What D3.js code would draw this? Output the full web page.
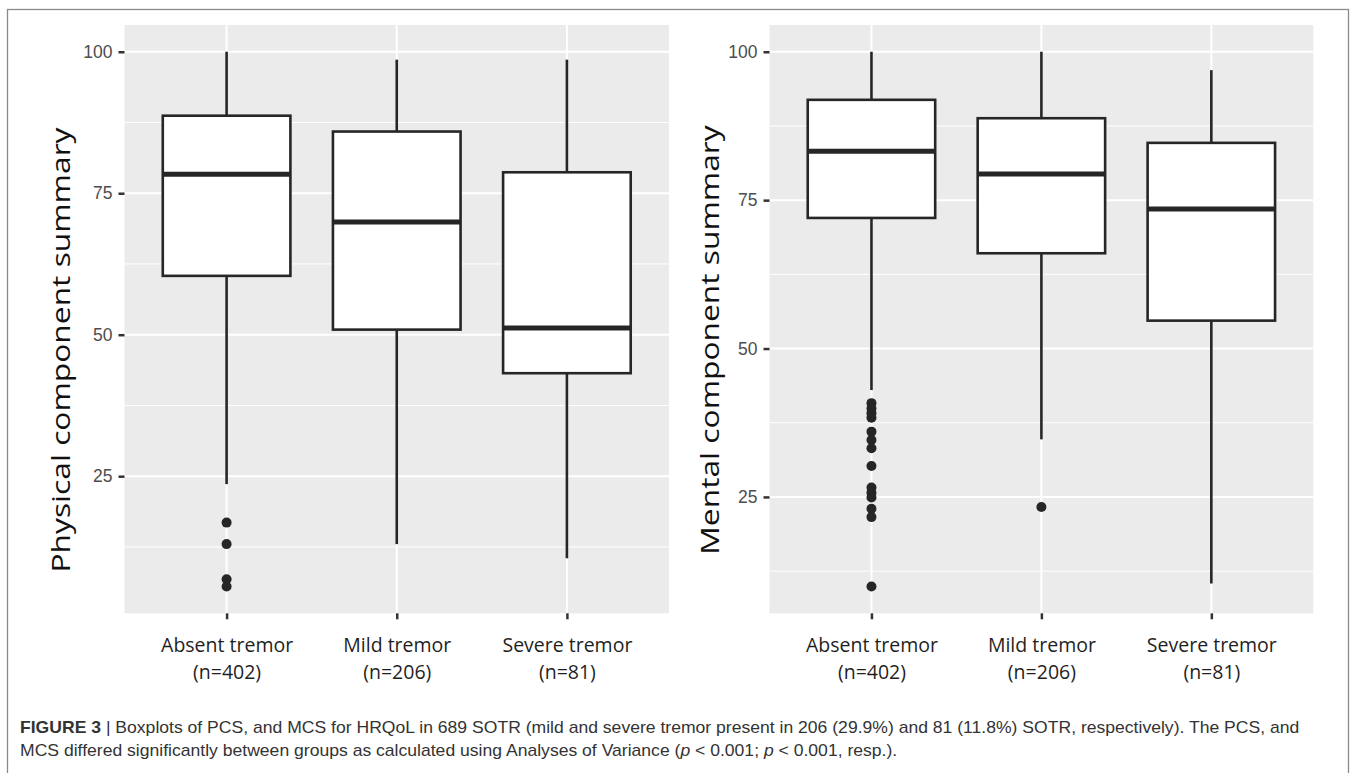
<html>
<style>
    body {
        margin: 0;
        background: #FFFFFF;
    }
    .panel {
        fill: #EBEBEB;
    }
    .grid-major {
        stroke: #FFFFFF;
        stroke-width: 2;
    }
    .grid-minor {
        stroke: #FFFFFF;
        stroke-width: 1;
    }
    .box rect, .box line {
        stroke: #262626;
        stroke-width: 2.6;
    }
    .box rect {
        fill: #FFFFFF;
    }
    .box .median {
        stroke-width: 5;
    }
    .outlier {
        fill: #262626;
    }
    .y-axis text {
        font-family: "Liberation Sans", Arial, sans-serif;
        font-size: 17.5px;
        fill: #4D4D4D;
    }
    .x-axis text {
        font-family: "Open Sans", sans-serif;
        font-size: 19.5px;
        fill: #1F1F1F;
    }
    .tick line {
        stroke: #333333;
        stroke-width: 2.5;
    }
    .axis-title {
        font-family: "Open Sans", sans-serif;
        font-size: 25px;
        fill: #111111;
    }
    .caption {
        font-family: "Liberation Sans", Arial, sans-serif;
        font-size: 16px;
        fill: #333333;
    }
</style>

<script src="https://d3js.org/d3.v7.min.js"></script>

<body>
<svg id="Figure" width="1355" height="773"></svg>
</body>

<script>

  // groups on the x axis
  const categories = ["Absent tremor", "Mild tremor", "Severe tremor"];
  const groupSizes = ["(n=402)", "(n=206)", "(n=81)"];

  // y ticks
  const majorTicks = [25, 50, 75, 100];
  const minorTicks = [12.5, 37.5, 62.5, 87.5];

  // physical component summary (PCS)
  const pcsLow    = [23.6, 13.0, 10.5];
  const pcsQ1     = [60.4, 50.9, 43.2];
  const pcsMedian = [78.35, 69.9, 51.2];
  const pcsQ3     = [88.7, 85.9, 78.7];
  const pcsHigh   = [100, 98.6, 98.6];
  const pcsOutliers = [[16.8, 13.0, 6.8, 5.5], [], []];

  // mental component summary (MCS)
  const mcsLow    = [43.0, 34.7, 10.4];
  const mcsQ1     = [72.0, 66.05, 54.7];
  const mcsMedian = [83.25, 79.4, 73.5];
  const mcsQ3     = [91.9, 88.8, 84.65];
  const mcsHigh   = [100, 100, 96.9];
  const mcsOutliers = [[40.8, 39.9, 39.1, 38.35, 36.0, 34.6, 33.2, 30.2, 26.6, 25.7, 24.9, 23.0, 21.6, 9.9], [23.3], []];

  const captionLine1 = "Boxplots of PCS, and MCS for HRQoL in 689 SOTR (mild and severe tremor present in 206 (29.9%) and 81 (11.8%) SOTR, respectively). The PCS, and";

  const svg = d3.select("#Figure");

  // outer frame
  svg.append("rect")
      .attr("x", 7.5).attr("y", 9.5)
      .attr("width", 1341).attr("height", 800)
      .attr("fill", "none")
      .attr("stroke", "#8A8A8A")
      .attr("stroke-width", 1.3);

  function drawPanel(config) {
    let {left, right, top, bottom, low, q1, median, q3, high, outliers, title, titleX, titleY} = config;

    // ggplot style 5% expansion of the data range
    let all = low.concat(high, outliers.flat());
    let lo = d3.min(all), hi = d3.max(all), pad = (hi - lo) * 0.05;
    let y = d3.scaleLinear().domain([lo - pad, hi + pad]).range([bottom, top]);
    let x = d3.scalePoint().domain(categories).range([left, right]).padding(0.6);
    let boxWidth = x.step() * 0.75;

    let g = svg.append("g");

    g.append("rect")
        .attr("class", "panel")
        .attr("x", left).attr("y", top)
        .attr("width", right - left).attr("height", bottom - top);

    g.selectAll(".grid-minor").data(minorTicks.filter(d => d > y.domain()[0])).enter()
        .append("line").attr("class", "grid-minor")
        .attr("x1", left).attr("x2", right)
        .attr("y1", d => y(d)).attr("y2", d => y(d));

    g.selectAll(".grid-major.h").data(majorTicks).enter()
        .append("line").attr("class", "grid-major h")
        .attr("x1", left).attr("x2", right)
        .attr("y1", d => y(d)).attr("y2", d => y(d));

    g.selectAll(".grid-major.v").data(categories).enter()
        .append("line").attr("class", "grid-major v")
        .attr("x1", d => x(d)).attr("x2", d => x(d))
        .attr("y1", top).attr("y2", bottom);

    // boxes
    let boxes = g.selectAll(".box").data(categories).enter()
        .append("g").attr("class", "box");

    boxes.append("line")
        .attr("x1", d => x(d)).attr("x2", d => x(d))
        .attr("y1", (d, i) => y(high[i])).attr("y2", (d, i) => y(q3[i]));
    boxes.append("line")
        .attr("x1", d => x(d)).attr("x2", d => x(d))
        .attr("y1", (d, i) => y(q1[i])).attr("y2", (d, i) => y(low[i]));
    boxes.append("rect")
        .attr("x", d => x(d) - boxWidth / 2)
        .attr("width", boxWidth)
        .attr("y", (d, i) => y(q3[i]))
        .attr("height", (d, i) => y(q1[i]) - y(q3[i]));
    boxes.append("line").attr("class", "median")
        .attr("x1", d => x(d) - boxWidth / 2).attr("x2", d => x(d) + boxWidth / 2)
        .attr("y1", (d, i) => y(median[i])).attr("y2", (d, i) => y(median[i]));

    let points = [];
    categories.forEach((c, i) => outliers[i].forEach(v => points.push({c, v})));
    g.selectAll(".outlier").data(points).enter()
        .append("circle").attr("class", "outlier")
        .attr("cx", d => x(d.c)).attr("cy", d => y(d.v))
        .attr("r", 5);

    // axes
    let yAxis = g.append("g")
        .attr("class", "y-axis")
        .attr("transform", `translate(${left},0)`)
        .call(d3.axisLeft(y).tickValues(majorTicks).tickSize(6).tickPadding(6));
    yAxis.select(".domain").remove();

    let xAxis = g.append("g")
        .attr("class", "x-axis")
        .attr("transform", `translate(0,${bottom})`)
        .call(d3.axisBottom(x).tickSize(6));
    xAxis.select(".domain").remove();
    xAxis.selectAll(".tick text").each(function(d, i) {
      let t = d3.select(this).text(null).attr("y", null).attr("dy", null);
      t.append("tspan").attr("x", 0).attr("y", 39).text(d);
      t.append("tspan").attr("x", 0).attr("y", 66).text(groupSizes[i]);
    });

    g.append("text")
        .attr("class", "axis-title")
        .attr("text-anchor", "middle")
        .attr("transform", `translate(${titleX},${titleY}) rotate(-90) scale(1.27,1)`)
        .text(title);
  }

  drawPanel({left: 124.5, right: 669, top: 25, bottom: 613.3,
             low: pcsLow, q1: pcsQ1, median: pcsMedian, q3: pcsQ3, high: pcsHigh, outliers: pcsOutliers,
             title: "Physical component summary", titleX: 70, titleY: 350});

  drawPanel({left: 769.5, right: 1313.3, top: 25, bottom: 613.3,
             low: mcsLow, q1: mcsQ1, median: mcsMedian, q3: mcsQ3, high: mcsHigh, outliers: mcsOutliers,
             title: "Mental component summary", titleX: 719, titleY: 340});

  // caption, squeezed to the width of the figure
  let caption = svg.append("g").attr("class", "caption");
  let line1 = caption.append("text").attr("x", 0).attr("y", 733);
  line1.append("tspan").attr("font-weight", "bold").text("FIGURE 3");
  line1.append("tspan").text(" | " + captionLine1);
  let line2 = caption.append("text").attr("x", 0).attr("y", 756);
  line2.append("tspan").text("MCS differed significantly between groups as calculated using Analyses of Variance (");
  line2.append("tspan").attr("font-style", "italic").text("p");
  line2.append("tspan").text(" < 0.001; ");
  line2.append("tspan").attr("font-style", "italic").text("p");
  line2.append("tspan").text(" < 0.001, resp.).");

  let sx = 1280 / line1.node().getComputedTextLength();
  caption.attr("transform", `translate(20,0) scale(${sx},1)`);

</script>
</html>
